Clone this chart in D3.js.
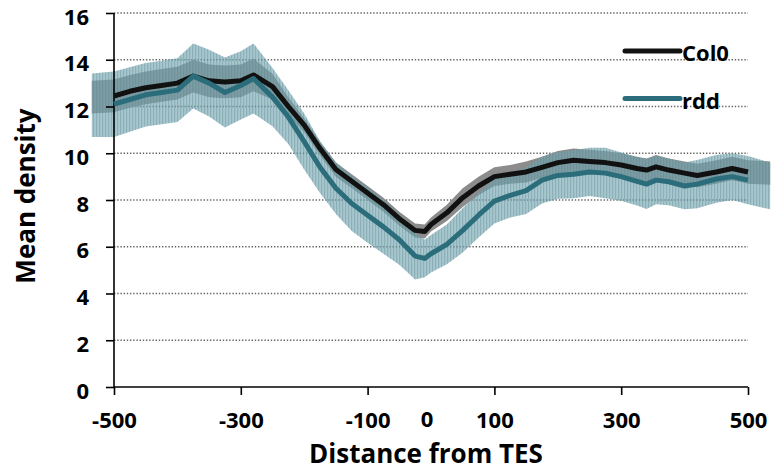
<!DOCTYPE html>
<html>
<head>
<meta charset="utf-8">
<script src="https://cdn.jsdelivr.net/npm/d3@7"></script>
<style>
  body { margin: 0; background: #fff; }
  text { font-family: "Open Sans", Lato, sans-serif; font-weight: bold; fill: #000; }
</style>
</head>
<body>
<div id="chart"></div>
<script>
// distance from TES (bp); the error bands run a little past the axis ends
var positions = [-535, -500, -475, -450, -425, -400, -375, -350, -325, -300, -280, -250, -225, -200,
  -175, -150, -125, -100, -75, -50, -25, -10, 0, 25, 50, 75, 100, 125, 150, 175, 200, 225, 250,
  275, 300, 325, 340, 355, 375, 400, 420, 450, 475, 500, 535];

var col0 = [12.4, 12.45, 12.65, 12.8, 12.9, 13.0, 13.3, 13.1, 13.05, 13.1, 13.35, 12.85, 12.0, 11.2,
  10.2, 9.3, 8.8, 8.3, 7.8, 7.2, 6.7, 6.65, 6.95, 7.45, 8.1, 8.6, 9.0, 9.1, 9.2, 9.4, 9.6, 9.7, 9.65,
  9.6, 9.5, 9.35, 9.28, 9.42, 9.28, 9.15, 9.05, 9.2, 9.35, 9.2, 9.15];

var rdd = [12.05, 12.1, 12.3, 12.5, 12.6, 12.7, 13.3, 13.0, 12.6, 12.9, 13.2, 12.4, 11.55, 10.5,
  9.4, 8.5, 7.85, 7.35, 6.85, 6.3, 5.6, 5.5, 5.7, 6.1, 6.7, 7.35, 7.95, 8.2, 8.4, 8.85, 9.05, 9.1, 9.2,
  9.15, 9.0, 8.8, 8.68, 8.85, 8.78, 8.6, 8.68, 8.9, 9.0, 8.85, 8.6];

var col0Err = [0.7, 0.7, 0.7, 0.7, 0.7, 0.7, 0.7, 0.7, 0.7, 0.7, 0.7, 0.55, 0.4, 0.3,
  0.3, 0.3, 0.3, 0.3, 0.3, 0.3, 0.3, 0.3, 0.3, 0.35, 0.4, 0.4, 0.4, 0.4, 0.45, 0.45, 0.5, 0.5, 0.5,
  0.5, 0.5, 0.5, 0.5, 0.5, 0.5, 0.5, 0.5, 0.5, 0.5, 0.5, 0.5];

var rddErr = [1.36, 1.4, 1.38, 1.36, 1.36, 1.36, 1.39, 1.43, 1.5, 1.46, 1.5, 1.25, 1.15, 1.2,
  1.1, 1.1, 1.18, 1.18, 1.15, 1.07, 1.0, 0.8, 0.8, 0.85, 0.95, 0.95, 0.95, 0.95, 1.0, 1.0, 1.0, 1.03, 1.03,
  1.08, 1.03, 1.03, 1.07, 1.03, 1.0, 1.0, 1.03, 1.02, 1.0, 1.03, 1.0];

var yTicks = [0, 2, 4, 6, 8, 10, 12, 14, 16];
var xTicks = [-500, -300, -100, 100, 300, 500];
var seriesNames = ['Col0', 'rdd'];
var seriesColors = ['#111111', '#2b6d7b'];

var width = 772,
    height = 470;

var x = d3.scaleLinear().domain([-500, 500]).range([114, 748]);
var y = d3.scaleLinear().domain([0, 16]).range([387, 13]);

var svg = d3.select('#chart').append('svg')
    .attr('width', width)
    .attr('height', height);

// vertical hatching like the excel error bars
var pat = svg.append('defs').append('pattern')
    .attr('id', 'stripes')
    .attr('patternUnits', 'userSpaceOnUse')
    .attr('width', 3)
    .attr('height', 10);
pat.append('rect')
    .attr('x', 0).attr('y', 0)
    .attr('width', 1.2).attr('height', 10)
    .attr('fill', '#4d7f8a')
    .attr('fill-opacity', 0.3);

// gridlines
svg.append('g').selectAll('line')
    .data(yTicks.filter(function(d) { return d > 0; }))
  .enter().append('line')
    .attr('x1', x(-500)).attr('x2', x(500))
    .attr('y1', function(d) { return y(d); })
    .attr('y2', function(d) { return y(d); })
    .attr('stroke', '#666')
    .attr('stroke-width', 1.4)
    .attr('stroke-dasharray', '1.4,1.8');

var rows = positions.map(function(p, i) {
  return {x: p, c: col0[i], r: rdd[i], ce: col0Err[i], re: rddErr[i]};
});

var colBand = d3.area()
    .x(function(d) { return x(d.x); })
    .y0(function(d) { return y(d.c - d.ce); })
    .y1(function(d) { return y(d.c + d.ce); });

var rddBand = d3.area()
    .x(function(d) { return x(d.x); })
    .y0(function(d) { return y(d.r - d.re); })
    .y1(function(d) { return y(d.r + d.re); });

svg.append('path').datum(rows)
    .attr('d', colBand)
    .attr('fill', '#8c8c8c');

svg.append('path').datum(rows)
    .attr('d', rddBand)
    .attr('fill', 'rgb(117,165,176)')
    .attr('fill-opacity', 0.635);

svg.append('path').datum(rows)
    .attr('d', rddBand)
    .attr('fill', 'url(#stripes)');

// axes
var fmt = function(d) { return String(d); };

var yAxis = svg.append('g')
    .attr('transform', 'translate(' + x(-500) + ',0)')
    .call(d3.axisLeft(y).tickValues(yTicks).tickFormat(fmt).tickSize(8).tickPadding(17));

var xAxis = svg.append('g')
    .attr('transform', 'translate(0,' + y(0) + ')')
    .call(d3.axisBottom(x).tickValues(xTicks).tickFormat(fmt).tickSize(8).tickPadding(18));

[yAxis, xAxis].forEach(function(ax) {
  ax.select('.domain').attr('stroke', '#000').attr('stroke-width', 1.6);
  ax.selectAll('.tick line').attr('stroke', '#000').attr('stroke-width', 1.6);
  ax.selectAll('.tick text')
    .style('font-family', '"Open Sans", sans-serif')
    .style('font-weight', 'bold')
    .style('font-size', '22px')
    .attr('fill', '#000');
});
// excel sits the value labels a touch below their gridline
yAxis.selectAll('.tick text').attr('dy', '0.5em');
xAxis.selectAll('.tick text').attr('dy', '0.7em');
xAxis.select('.domain').attr('d', 'M' + x(-500) + ',0H' + x(500));
yAxis.select('.domain').attr('d', 'M0,' + y(0) + 'V' + y(16));

// the lone "0" under the TES
svg.append('text')
    .attr('x', x(0) - 4)
    .attr('y', 427)
    .attr('text-anchor', 'middle')
    .style('font-size', '22px')
    .text('0');

// lines, Col0 first so rdd sits on top
var line = d3.line()
    .x(function(d) { return x(d.x); })
    .y(function(d) { return y(d.v); });

var inRange = rows.filter(function(d) { return d.x >= -500 && d.x <= 500; });

[['c', 0], ['r', 1]].forEach(function(s) {
  svg.append('path')
      .datum(inRange.map(function(d) { return {x: d.x, v: d[s[0]]}; }))
      .attr('d', line)
      .attr('fill', 'none')
      .attr('stroke', seriesColors[s[1]])
      .attr('stroke-width', 5)
      .attr('stroke-linejoin', 'round');
});

// legend
var legend = svg.append('g').selectAll('g')
    .data(seriesNames)
  .enter().append('g')
    .attr('transform', function(d, i) { return 'translate(625,' + (51 + i * 47.5) + ')'; });

legend.append('line')
    .attr('x1', 0).attr('x2', 55)
    .attr('stroke', function(d, i) { return seriesColors[i]; })
    .attr('stroke-width', 5)
    .attr('stroke-linecap', 'round');

legend.append('text')
    .attr('x', 57)
    .attr('y', 10)
    .style('font-size', '22px')
    .text(function(d) { return d; });

// axis titles
svg.append('text')
    .attr('x', 426)
    .attr('y', 463)
    .attr('text-anchor', 'middle')
    .style('font-size', '26px')
    .text('Distance from TES');

svg.append('text')
    .attr('transform', 'translate(35,196) rotate(-90)')
    .attr('text-anchor', 'middle')
    .style('font-size', '26px')
    .text('Mean density');
</script>
</body>
</html>
